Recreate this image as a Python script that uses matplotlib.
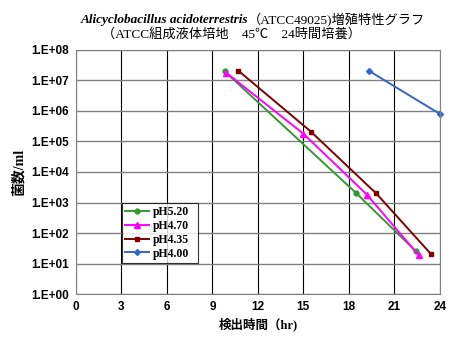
import numpy as np
import matplotlib
matplotlib.use('Agg')
import matplotlib.pyplot as plt
from matplotlib.ticker import FixedLocator, LogLocator, NullFormatter

plt.rcParams['font.family'] = ['Liberation Sans', 'Noto Sans CJK JP']

# データ
series_labels = ['pH5.20', 'pH4.70', 'pH4.35', 'pH4.00']
t_ph520 = [9.8, 18.5, 22.4]
n_ph520 = [2.0e7, 2.0e3, 2.6e1]
t_ph470 = [9.9, 15.0, 19.2, 22.6]
n_ph470 = [1.8e7, 1.8e5, 1.8e3, 1.9e1]
t_ph435 = [10.7, 15.5, 19.8, 23.4]
n_ph435 = [2.1e7, 2.1e5, 2.0e3, 2.1e1]
t_ph400 = [19.3, 24.0]
n_ph400 = [2.1e7, 8.0e5]
xticks = [0, 3, 6, 9, 12, 15, 18, 21, 24]
yticks = [1e0, 1e1, 1e2, 1e3, 1e4, 1e5, 1e6, 1e7, 1e8]
ytick_labels = ['1.E+00', '1.E+01', '1.E+02', '1.E+03', '1.E+04',
                '1.E+05', '1.E+06', '1.E+07', '1.E+08']

fig = plt.figure(figsize=(4.52, 3.44), dpi=100)
ax = fig.add_axes([0.168, 0.145, 0.805, 0.71])

ax.plot(t_ph520, n_ph520, color='#339933', marker='o', ms=3.5, lw=1.4, label=series_labels[0])
ax.plot(t_ph470, n_ph470, color='#ff00ff', marker='^', ms=4.5, lw=1.4, label=series_labels[1])
ax.plot(t_ph435, n_ph435, color='#800000', marker='s', ms=3.5, lw=1.4, label=series_labels[2])
ax.plot(t_ph400, n_ph400, color='#3366cc', marker='D', ms=3, lw=1.4, label=series_labels[3],
        clip_on=False)

ax.set_yscale('log')
ax.set_xlim(0, 24)
ax.set_ylim(1e0, 1e8)
ax.set_xticks(xticks)
ax.set_xticklabels([str(x) for x in xticks], fontsize=8.5, fontweight='bold')
ax.yaxis.set_major_locator(FixedLocator(yticks))
ax.set_yticklabels(ytick_labels, fontsize=8.5, fontweight='bold')
ax.yaxis.set_minor_locator(LogLocator(base=10, subs=np.arange(2, 10)))
ax.yaxis.set_minor_formatter(NullFormatter())
ax.tick_params(length=0, which='both', pad=5)

# 目盛線
ax.grid(True, axis='x', color='black', lw=0.8)
ax.grid(True, axis='y', which='major', color='#808080', lw=1.0)
ax.grid(True, axis='y', which='minor', color='#909090', lw=0.8)
ax.set_axisbelow(True)
for s in ax.spines.values():
    s.set_color('#808080')
    s.set_linewidth(0.8)

leg = ax.legend(loc='lower left', bbox_to_anchor=(0.126, 0.127, 0.209, 0.246), mode='expand',
                prop={'family': 'Liberation Serif', 'weight': 'bold', 'size': 8.5},
                frameon=True, fancybox=False, borderpad=0.3, labelspacing=0.15,
                handlelength=2.0, handletextpad=0.3, borderaxespad=0)
leg.get_frame().set_edgecolor('black')
leg.get_frame().set_linewidth(0.8)

ax.set_xlabel('検出時間（hr)', fontsize=9, fontweight='bold', labelpad=3,
              family=['Liberation Serif', 'Noto Sans CJK JP'])
ax.set_ylabel('菌数/ml', fontsize=10, fontweight='bold', labelpad=4,
              family=['Liberation Serif', 'Noto Sans CJK JP'])

# タイトル
fig.text(0.549, 0.942, 'Alicyclobacillus acidoterrestris', ha='right', va='center',
         fontsize=9.5, fontweight='bold', style='italic', family='Liberation Serif')
fig.text(0.549, 0.942, '（ATCC49025)増殖特性グラフ', ha='left', va='center',
         fontsize=9.5, family=['Liberation Serif', 'Noto Sans CJK JP'])
fig.text(0.513, 0.898, '（ATCC組成液体培地　45℃　24時間培養）', ha='center', va='center',
         fontsize=9.5, family=['Liberation Serif', 'Noto Sans CJK JP'])

fig.savefig('out.png', dpi=100)
